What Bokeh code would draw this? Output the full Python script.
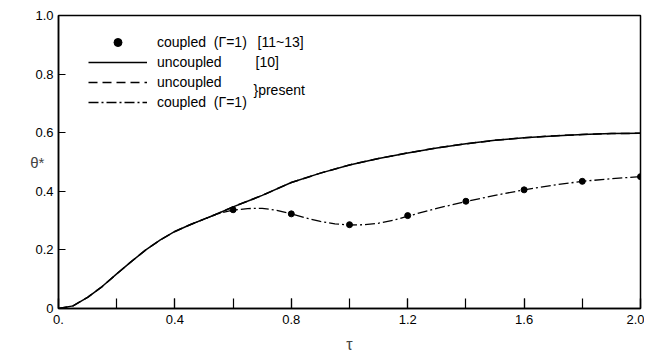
from bokeh.plotting import figure
from bokeh.models import Range1d, FixedTicker, Legend, LegendItem, Label
from bokeh.embed import file_html
from bokeh.resources import INLINE

# uncoupled solution (ref [10]) and present uncoupled
tau_u = [0.0, 0.05, 0.1, 0.15, 0.2, 0.25, 0.3, 0.35, 0.4, 0.45, 0.5, 0.55, 0.6,
         0.7, 0.8, 0.9, 1.0, 1.1, 1.2, 1.3, 1.4, 1.5, 1.6, 1.7, 1.8, 1.9, 2.0]
theta_u = [0.0, 0.009, 0.038, 0.075, 0.118, 0.160, 0.200, 0.234, 0.263, 0.285, 0.305,
           0.325, 0.347, 0.386, 0.430, 0.462, 0.490, 0.512, 0.531, 0.548, 0.562,
           0.574, 0.583, 0.589, 0.594, 0.597, 0.598]

# present coupled (gamma = 1)
tau_c = [0.45, 0.5, 0.55, 0.6, 0.65, 0.7, 0.75, 0.8, 0.85, 0.9, 0.95, 1.0, 1.05,
         1.1, 1.15, 1.2, 1.3, 1.4, 1.5, 1.6, 1.7, 1.8, 1.9, 2.0]
theta_c = [0.285, 0.305, 0.324, 0.336, 0.341, 0.342, 0.335, 0.323, 0.309, 0.297,
           0.289, 0.285, 0.286, 0.291, 0.301, 0.315, 0.342, 0.365, 0.386, 0.405,
           0.421, 0.434, 0.443, 0.450]

# coupled (gamma = 1) refs [11~13]
tau_d = [0.6, 0.8, 1.0, 1.2, 1.4, 1.6, 1.8, 2.0]
theta_d = [0.337, 0.323, 0.286, 0.317, 0.366, 0.405, 0.434, 0.450]

x_ticks = [0.0, 0.4, 0.8, 1.2, 1.6, 2.0]
x_tick_labels = ["0.", "0.4", "0.8", "1.2", "1.6", "2.0"]
x_minor = [0.2, 0.6, 1.0, 1.4, 1.8]
y_ticks = [0.0, 0.2, 0.4, 0.6, 0.8, 1.0]
y_tick_labels = ["0", "0.2", "0.4", "0.6", "0.8", "1.0"]

FONT = "Liberation Sans"

p = figure(width=644, height=348, frame_width=582, frame_height=293,
           x_range=Range1d(0, 2.0), y_range=Range1d(0, 1.0),
           output_backend="svg", toolbar_location=None,
           min_border_left=58, min_border_right=4, min_border_top=15, min_border_bottom=40)
p.grid.visible = False
p.outline_line_color = "black"
p.outline_line_width = 1.5
p.background_fill_color = "white"
p.border_fill_color = "white"

p.xaxis.ticker = FixedTicker(ticks=x_ticks, minor_ticks=x_minor + x_ticks)
p.xaxis.major_label_overrides = {t: l for t, l in zip(x_ticks, x_tick_labels)}
p.yaxis.ticker = FixedTicker(ticks=y_ticks, minor_ticks=[])
p.yaxis.major_label_overrides = {t: l for t, l in zip(y_ticks, y_tick_labels)}

for ax in (p.xaxis, p.yaxis):
    ax.axis_line_color = "black"
    ax.axis_line_width = 1.5
    ax.major_tick_line_color = "black"
    ax.minor_tick_line_color = "black"
    ax.major_tick_line_width = 1.2
    ax.minor_tick_line_width = 1.2
    ax.major_tick_out = 0
    ax.minor_tick_out = 0
    ax.major_label_text_font = FONT
    ax.major_label_text_font_size = "13px"
    ax.major_label_text_color = "black"

p.xaxis.major_tick_in = 10
p.xaxis.minor_tick_in = 10
p.yaxis.major_tick_in = 7
p.yaxis.minor_tick_in = 0
p.xaxis.major_label_standoff = 6
p.yaxis.major_label_standoff = 5

p.xaxis.axis_label = "τ"
p.xaxis.axis_label_text_font = FONT
p.xaxis.axis_label_text_font_style = "normal"
p.xaxis.axis_label_text_font_size = "16px"
p.xaxis.axis_label_standoff = 9

p.yaxis.axis_label = "θ*"
p.yaxis.axis_label_text_font = FONT
p.yaxis.axis_label_text_font_style = "normal"
p.yaxis.axis_label_text_font_size = "15px"
p.yaxis.axis_label_standoff = -12
if "axis_label_orientation" in p.yaxis[0].properties():
    p.yaxis.axis_label_orientation = "horizontal"

r_ref10 = p.line(tau_u, theta_u, line_color="black", line_width=1.5)
r_unc = p.line(tau_u, theta_u, line_color="black", line_width=1.5, line_dash="9 5")
r_cpl = p.line(tau_c, theta_c, line_color="black", line_width=1.3, line_dash="10 3 2 3")
r_dots = p.scatter(tau_d, theta_d, size=6, color="black")

legend = Legend(items=[
    LegendItem(label="coupled  (Γ=1)", renderers=[r_dots]),
    LegendItem(label="uncoupled", renderers=[r_ref10]),
    LegendItem(label="uncoupled", renderers=[r_unc]),
    LegendItem(label="coupled  (Γ=1)", renderers=[r_cpl]),
], location=(30, 196))
legend.border_line_color = None
legend.background_fill_alpha = 0
legend.padding = 0
legend.margin = 0
legend.spacing = 0
legend.glyph_width = 59
legend.glyph_height = 20
legend.label_height = 20
legend.label_standoff = 10
legend.label_text_font = FONT
legend.label_text_font_size = "14px"
legend.label_text_color = "black"
p.add_layout(legend)

for x, y, txt in [(0.684, 0.911, "[11~13]"), (0.677, 0.843, "[10]"), (0.670, 0.745, "}present")]:
    p.add_layout(Label(x=x, y=y, text=txt, text_font=FONT, text_font_size="14px",
                       text_baseline="middle", text_color="black"))

open("out.html", "w").write(file_html(p, INLINE))
